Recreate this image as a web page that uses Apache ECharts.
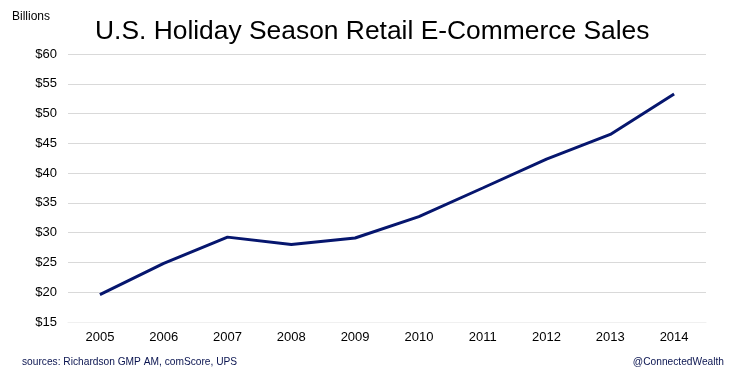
<!DOCTYPE html>
<html><head><meta charset="utf-8">
<script src="https://cdn.jsdelivr.net/npm/echarts@6/dist/echarts.min.js"></script>
<style>html,body{margin:0;padding:0;background:#fff}#c{width:735px;height:378px}</style>
</head><body><div id="c"></div>
<script>
const years = ['2005','2006','2007','2008','2009','2010','2011','2012','2013','2014'];
const sales = [19.6, 24.85, 29.25, 28.0, 29.1, 32.7, 37.5, 42.35, 46.5, 53.3];
const chart = echarts.init(document.getElementById('c'));
const F = 'Liberation Sans, Arial, Helvetica, sans-serif';
chart.setOption({
  animation: false,
  backgroundColor: '#fff',
  textStyle: {fontFamily: F},
  title: [
    {text: 'U.S. Holiday Season Retail E-Commerce Sales', left: 95, top: 19, padding: 0,
     textStyle: {fontFamily: F, fontSize: 26.4, fontWeight: 'normal', color: '#000'}},
    {text: 'Billions', left: 12, top: 11, padding: 0, textStyle: {fontFamily: F, fontSize: 12, fontWeight: 'normal', color: '#000'}},
    {text: 'sources: Richardson GMP AM, comScore, UPS', left: 22, top: 357, padding: 0,
     textStyle: {fontFamily: F, fontSize: 10.2, fontWeight: 'normal', color: '#0a1450'}},
    {text: '@ConnectedWealth', right: 11, top: 357, padding: 0,
     textStyle: {fontFamily: F, fontSize: 10.2, fontWeight: 'normal', color: '#0a1450'}}
  ],
  grid: {left: 68, right: 29, top: 54, bottom: 56},
  xAxis: {
    type: 'category', data: years, boundaryGap: true,
    axisLine: {show: true, lineStyle: {color: '#f0f0f0'}},
    axisTick: {show: false},
    axisLabel: {fontFamily: F, fontSize: 13, color: '#000', margin: 9}
  },
  yAxis: {
    type: 'value', min: 15, max: 60, interval: 5,
    axisLine: {show: false}, axisTick: {show: false},
    splitLine: {lineStyle: {color: '#d9d9d9', width: 1}},
    axisLabel: {fontFamily: F, fontSize: 13, color: '#000', margin: 11, formatter: v => '$' + v}
  },
  series: [{
    type: 'line', data: sales, symbol: 'none',
    lineStyle: {color: '#06166e', width: 3}
  }]
});
</script></body></html>
